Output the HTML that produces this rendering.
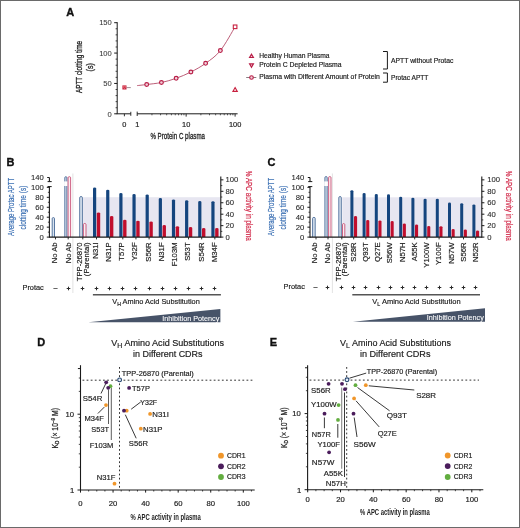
<!DOCTYPE html>
<html><head><meta charset="utf-8"><style>
html,body{margin:0;padding:0;background:#fff;}
svg{display:block;will-change:transform;}
text{font-family:"Liberation Sans", sans-serif;}
</style></head><body>
<svg width="520" height="528" viewBox="0 0 520 528">
<rect x="0" y="0" width="520" height="528" fill="#fff"/>
<text x="66.20" y="15.90" font-size="11" text-anchor="start" fill="#111" stroke="#111" stroke-width="0.35" font-weight="bold" >A</text>
<line x1="117.20" y1="22.20" x2="117.20" y2="113.80" stroke="#1a1a1a" stroke-width="1" />
<line x1="114.20" y1="113.80" x2="117.20" y2="113.80" stroke="#1a1a1a" stroke-width="1" />
<text x="111.80" y="116.50" font-size="7.6" text-anchor="end" fill="#333" stroke="#333" stroke-width="0.05" >0</text>
<line x1="115.60" y1="107.73" x2="117.20" y2="107.73" stroke="#1a1a1a" stroke-width="0.8" />
<line x1="115.60" y1="101.65" x2="117.20" y2="101.65" stroke="#1a1a1a" stroke-width="0.8" />
<line x1="115.60" y1="95.58" x2="117.20" y2="95.58" stroke="#1a1a1a" stroke-width="0.8" />
<line x1="115.60" y1="89.51" x2="117.20" y2="89.51" stroke="#1a1a1a" stroke-width="0.8" />
<line x1="114.20" y1="83.44" x2="117.20" y2="83.44" stroke="#1a1a1a" stroke-width="1" />
<text x="111.80" y="86.14" font-size="7.6" text-anchor="end" fill="#333" stroke="#333" stroke-width="0.05" >50</text>
<line x1="115.60" y1="77.36" x2="117.20" y2="77.36" stroke="#1a1a1a" stroke-width="0.8" />
<line x1="115.60" y1="71.29" x2="117.20" y2="71.29" stroke="#1a1a1a" stroke-width="0.8" />
<line x1="115.60" y1="65.22" x2="117.20" y2="65.22" stroke="#1a1a1a" stroke-width="0.8" />
<line x1="115.60" y1="59.14" x2="117.20" y2="59.14" stroke="#1a1a1a" stroke-width="0.8" />
<line x1="114.20" y1="53.07" x2="117.20" y2="53.07" stroke="#1a1a1a" stroke-width="1" />
<text x="111.80" y="55.77" font-size="7.6" text-anchor="end" fill="#333" stroke="#333" stroke-width="0.05" >100</text>
<line x1="115.60" y1="47.00" x2="117.20" y2="47.00" stroke="#1a1a1a" stroke-width="0.8" />
<line x1="115.60" y1="40.92" x2="117.20" y2="40.92" stroke="#1a1a1a" stroke-width="0.8" />
<line x1="115.60" y1="34.85" x2="117.20" y2="34.85" stroke="#1a1a1a" stroke-width="0.8" />
<line x1="115.60" y1="28.78" x2="117.20" y2="28.78" stroke="#1a1a1a" stroke-width="0.8" />
<line x1="114.20" y1="22.70" x2="117.20" y2="22.70" stroke="#1a1a1a" stroke-width="1" />
<text x="111.80" y="25.40" font-size="7.6" text-anchor="end" fill="#333" stroke="#333" stroke-width="0.05" >150</text>
<text x="82.30" y="67.00" font-size="8.8" text-anchor="middle" fill="#222" stroke="#222" stroke-width="0.3" textLength="52.20" lengthAdjust="spacingAndGlyphs" transform="rotate(-90 82.30 67.00)" >APTT clotting time</text>
<text x="93.30" y="67.30" font-size="8.8" text-anchor="middle" fill="#222" stroke="#222" stroke-width="0.3" textLength="8.20" lengthAdjust="spacingAndGlyphs" transform="rotate(-90 93.30 67.30)" >(s)</text>
<line x1="116.70" y1="113.80" x2="130.80" y2="113.80" stroke="#1a1a1a" stroke-width="1" />
<line x1="130.80" y1="111.80" x2="130.80" y2="115.80" stroke="#1a1a1a" stroke-width="0.9" />
<line x1="124.40" y1="113.80" x2="124.40" y2="116.30" stroke="#1a1a1a" stroke-width="0.9" />
<text x="124.40" y="126.80" font-size="7.4" text-anchor="middle" fill="#222" stroke="#222" stroke-width="0.18" >0</text>
<line x1="137.20" y1="113.80" x2="237.60" y2="113.80" stroke="#1a1a1a" stroke-width="1" />
<line x1="137.20" y1="111.60" x2="137.20" y2="116.00" stroke="#1a1a1a" stroke-width="0.9" />
<line x1="151.94" y1="113.80" x2="151.94" y2="115.30" stroke="#1a1a1a" stroke-width="0.7" />
<line x1="160.56" y1="113.80" x2="160.56" y2="115.30" stroke="#1a1a1a" stroke-width="0.7" />
<line x1="166.67" y1="113.80" x2="166.67" y2="115.30" stroke="#1a1a1a" stroke-width="0.7" />
<line x1="171.41" y1="113.80" x2="171.41" y2="115.30" stroke="#1a1a1a" stroke-width="0.7" />
<line x1="175.29" y1="113.80" x2="175.29" y2="115.30" stroke="#1a1a1a" stroke-width="0.7" />
<line x1="178.57" y1="113.80" x2="178.57" y2="115.30" stroke="#1a1a1a" stroke-width="0.7" />
<line x1="181.41" y1="113.80" x2="181.41" y2="115.30" stroke="#1a1a1a" stroke-width="0.7" />
<line x1="183.91" y1="113.80" x2="183.91" y2="115.30" stroke="#1a1a1a" stroke-width="0.7" />
<line x1="200.89" y1="113.80" x2="200.89" y2="115.30" stroke="#1a1a1a" stroke-width="0.7" />
<line x1="209.51" y1="113.80" x2="209.51" y2="115.30" stroke="#1a1a1a" stroke-width="0.7" />
<line x1="215.62" y1="113.80" x2="215.62" y2="115.30" stroke="#1a1a1a" stroke-width="0.7" />
<line x1="220.36" y1="113.80" x2="220.36" y2="115.30" stroke="#1a1a1a" stroke-width="0.7" />
<line x1="224.24" y1="113.80" x2="224.24" y2="115.30" stroke="#1a1a1a" stroke-width="0.7" />
<line x1="227.52" y1="113.80" x2="227.52" y2="115.30" stroke="#1a1a1a" stroke-width="0.7" />
<line x1="230.36" y1="113.80" x2="230.36" y2="115.30" stroke="#1a1a1a" stroke-width="0.7" />
<line x1="232.86" y1="113.80" x2="232.86" y2="115.30" stroke="#1a1a1a" stroke-width="0.7" />
<line x1="186.15" y1="113.80" x2="186.15" y2="116.60" stroke="#1a1a1a" stroke-width="0.9" />
<line x1="235.10" y1="113.80" x2="235.10" y2="116.60" stroke="#1a1a1a" stroke-width="0.9" />
<text x="137.20" y="126.80" font-size="7.4" text-anchor="middle" fill="#222" stroke="#222" stroke-width="0.18" >1</text>
<text x="186.15" y="126.80" font-size="7.4" text-anchor="middle" fill="#222" stroke="#222" stroke-width="0.18" >10</text>
<text x="235.10" y="126.80" font-size="7.4" text-anchor="middle" fill="#222" stroke="#222" stroke-width="0.18" >100</text>
<text x="150.40" y="139.30" font-size="8.8" text-anchor="start" fill="#222" stroke="#222" stroke-width="0.3" textLength="54.60" lengthAdjust="spacingAndGlyphs" >% Protein C plasma</text>
<path d="M137.20,85.60 C138.78,85.42 142.65,85.02 146.69,84.50 C150.72,83.98 156.51,83.53 161.42,82.50 C166.33,81.47 171.25,80.05 176.16,78.30 C181.07,76.55 185.98,74.50 190.89,72.00 C195.81,69.50 200.72,66.87 205.63,63.30 C210.54,59.73 215.45,56.68 220.36,50.60 C225.28,44.52 232.64,30.77 235.10,26.80" fill="none" stroke="#b0405e" stroke-width="0.85"/>
<circle cx="146.69" cy="84.50" r="1.9" fill="#f2d0da" stroke="#b81d46" stroke-width="1.15"/>
<circle cx="161.42" cy="82.50" r="1.9" fill="#f2d0da" stroke="#b81d46" stroke-width="1.15"/>
<circle cx="176.16" cy="78.30" r="1.9" fill="#f2d0da" stroke="#b81d46" stroke-width="1.15"/>
<circle cx="190.89" cy="72.00" r="1.9" fill="#f2d0da" stroke="#b81d46" stroke-width="1.15"/>
<circle cx="205.63" cy="63.30" r="1.9" fill="#f2d0da" stroke="#b81d46" stroke-width="1.15"/>
<circle cx="220.36" cy="50.60" r="1.9" fill="#f2d0da" stroke="#b81d46" stroke-width="1.15"/>
<rect x="233.30" y="25.00" width="3.6" height="3.6" fill="#fff" stroke="#c8203f" stroke-width="1.1"/>
<path d="M235.10,87.50 L237.30,91.40 L232.90,91.40Z" fill="#fff" stroke="#c8203f" stroke-width="1.1"/>
<rect x="122.4" y="85.4" width="4.1" height="4.1" fill="#c8203f"/>
<path d="M122.9,86.3 L126,86.3 L124.45,88.8Z" fill="none" stroke="#e88" stroke-width="0.6"/>
<line x1="126.50" y1="87.60" x2="130.80" y2="87.60" stroke="#8a7078" stroke-width="0.8" />
<path d="M251.5,54.2 L253.4,57.5 L249.6,57.5Z" fill="#f2d0da" stroke="#b81d46" stroke-width="1.2"/>
<path d="M251.5,67.2 L253.4,63.9 L249.6,63.9Z" fill="#f2d0da" stroke="#b81d46" stroke-width="1.2"/>
<line x1="246.20" y1="77.50" x2="256.30" y2="77.50" stroke="#6a5a60" stroke-width="0.8" />
<circle cx="251.5" cy="77.5" r="1.8" fill="#f2d0da" stroke="#b81d46" stroke-width="1.15"/>
<text x="259.20" y="57.70" font-size="6.8" text-anchor="start" fill="#222" stroke="#222" stroke-width="0.18" textLength="70.40" lengthAdjust="spacingAndGlyphs" >Healthy Human Plasma</text>
<text x="259.20" y="67.20" font-size="6.8" text-anchor="start" fill="#222" stroke="#222" stroke-width="0.18" textLength="82.40" lengthAdjust="spacingAndGlyphs" >Protein C Depleted Plasma</text>
<text x="259.20" y="79.40" font-size="6.8" text-anchor="start" fill="#222" stroke="#222" stroke-width="0.18" textLength="120.70" lengthAdjust="spacingAndGlyphs" >Plasma with Different Amount of Protein</text>
<path d="M383,51.5 H387.4 V69 H383" fill="none" stroke="#1a1a1a" stroke-width="1"/>
<path d="M383,73 H387.4 V82.2 H383" fill="none" stroke="#1a1a1a" stroke-width="1"/>
<text x="391.00" y="62.60" font-size="6.8" text-anchor="start" fill="#222" stroke="#222" stroke-width="0.18" textLength="62.40" lengthAdjust="spacingAndGlyphs" >APTT without Protac</text>
<text x="391.00" y="79.60" font-size="6.8" text-anchor="start" fill="#222" stroke="#222" stroke-width="0.18" textLength="37.40" lengthAdjust="spacingAndGlyphs" >Protac APTT</text>
<text x="6.40" y="165.60" font-size="11" text-anchor="start" fill="#111" stroke="#111" stroke-width="0.35" font-weight="bold" >B</text>
<rect x="83.10" y="197.20" width="137.70" height="39.90" fill="#e7e6f1"/>
<line x1="72.90" y1="173.50" x2="72.90" y2="293.00" stroke="#cfcfcf" stroke-width="0.6" />
<path d="M52.20,237.10 V218.60 Q52.20,217.60 53.35,217.60 Q54.50,217.60 54.50,218.60 V237.10" fill="#d9e3ef" stroke="#34598c" stroke-width="0.8"/>
<path d="M64.80,237.10 V177.70 Q64.80,176.70 65.85,176.70 Q66.90,176.70 66.90,177.70 V237.10" fill="#d9e3ef" stroke="#34598c" stroke-width="0.8"/>
<rect x="64.10" y="181.4" width="3.50" height="4.6" fill="#fff"/>
<path d="M68.10,237.10 V177.70 Q68.10,176.70 69.35,176.70 Q70.60,176.70 70.60,177.70 V237.10" fill="#fbeef2" stroke="#c23c66" stroke-width="0.8"/>
<path d="M79.70,237.10 V197.60 Q79.70,196.60 81.05,196.60 Q82.40,196.60 82.40,197.60 V237.10" fill="#d9e3ef" stroke="#34598c" stroke-width="0.8"/>
<path d="M83.40,237.10 V224.50 Q83.40,223.50 84.70,223.50 Q86.00,223.50 86.00,224.50 V237.10" fill="#fbeef2" stroke="#c23c66" stroke-width="0.8"/>
<path d="M93.00,237.10 V188.40 Q93.00,187.40 94.60,187.40 Q96.20,187.40 96.20,188.40 V237.10Z" fill="#15457e"/>
<path d="M96.80,237.10 V213.60 Q96.80,212.60 98.50,212.60 Q100.20,212.60 100.20,213.60 V237.10Z" fill="#c00e2d"/>
<path d="M106.15,237.10 V190.80 Q106.15,189.80 107.75,189.80 Q109.35,189.80 109.35,190.80 V237.10Z" fill="#15457e"/>
<path d="M109.95,237.10 V216.90 Q109.95,215.90 111.65,215.90 Q113.35,215.90 113.35,216.90 V237.10Z" fill="#c00e2d"/>
<path d="M119.30,237.10 V194.10 Q119.30,193.10 120.90,193.10 Q122.50,193.10 122.50,194.10 V237.10Z" fill="#15457e"/>
<path d="M123.10,237.10 V220.70 Q123.10,219.70 124.80,219.70 Q126.50,219.70 126.50,220.70 V237.10Z" fill="#c00e2d"/>
<path d="M132.45,237.10 V195.10 Q132.45,194.10 134.05,194.10 Q135.65,194.10 135.65,195.10 V237.10Z" fill="#15457e"/>
<path d="M136.25,237.10 V221.80 Q136.25,220.80 137.95,220.80 Q139.65,220.80 139.65,221.80 V237.10Z" fill="#c00e2d"/>
<path d="M145.60,237.10 V195.50 Q145.60,194.50 147.20,194.50 Q148.80,194.50 148.80,195.50 V237.10Z" fill="#15457e"/>
<path d="M149.40,237.10 V222.50 Q149.40,221.50 151.10,221.50 Q152.80,221.50 152.80,222.50 V237.10Z" fill="#c00e2d"/>
<path d="M158.75,237.10 V199.00 Q158.75,198.00 160.35,198.00 Q161.95,198.00 161.95,199.00 V237.10Z" fill="#15457e"/>
<path d="M162.55,237.10 V226.00 Q162.55,225.00 164.25,225.00 Q165.95,225.00 165.95,226.00 V237.10Z" fill="#c00e2d"/>
<path d="M171.90,237.10 V200.40 Q171.90,199.40 173.50,199.40 Q175.10,199.40 175.10,200.40 V237.10Z" fill="#15457e"/>
<path d="M175.70,237.10 V227.30 Q175.70,226.30 177.40,226.30 Q179.10,226.30 179.10,227.30 V237.10Z" fill="#c00e2d"/>
<path d="M185.05,237.10 V201.20 Q185.05,200.20 186.65,200.20 Q188.25,200.20 188.25,201.20 V237.10Z" fill="#15457e"/>
<path d="M188.85,237.10 V228.10 Q188.85,227.10 190.55,227.10 Q192.25,227.10 192.25,228.10 V237.10Z" fill="#c00e2d"/>
<path d="M198.20,237.10 V202.00 Q198.20,201.00 199.80,201.00 Q201.40,201.00 201.40,202.00 V237.10Z" fill="#15457e"/>
<path d="M202.00,237.10 V229.00 Q202.00,228.00 203.70,228.00 Q205.40,228.00 205.40,229.00 V237.10Z" fill="#c00e2d"/>
<path d="M211.35,237.10 V202.30 Q211.35,201.30 212.95,201.30 Q214.55,201.30 214.55,202.30 V237.10Z" fill="#15457e"/>
<path d="M215.15,237.10 V229.00 Q215.15,228.00 216.85,228.00 Q218.55,228.00 218.55,229.00 V237.10Z" fill="#c00e2d"/>
<line x1="49.40" y1="186.60" x2="49.40" y2="237.65" stroke="#1a1a1a" stroke-width="1.1" />
<line x1="47.60" y1="186.60" x2="51.70" y2="186.60" stroke="#1a1a1a" stroke-width="1" />
<line x1="49.40" y1="177.40" x2="49.40" y2="181.60" stroke="#1a1a1a" stroke-width="1.1" />
<line x1="47.60" y1="181.60" x2="51.70" y2="181.60" stroke="#1a1a1a" stroke-width="1" />
<line x1="47.20" y1="177.50" x2="49.40" y2="177.50" stroke="#1a1a1a" stroke-width="1" />
<line x1="46.80" y1="237.10" x2="49.40" y2="237.10" stroke="#1a1a1a" stroke-width="1" />
<line x1="47.90" y1="232.12" x2="49.40" y2="232.12" stroke="#1a1a1a" stroke-width="0.8" />
<line x1="46.80" y1="227.15" x2="49.40" y2="227.15" stroke="#1a1a1a" stroke-width="1" />
<line x1="47.90" y1="222.17" x2="49.40" y2="222.17" stroke="#1a1a1a" stroke-width="0.8" />
<line x1="46.80" y1="217.20" x2="49.40" y2="217.20" stroke="#1a1a1a" stroke-width="1" />
<line x1="47.90" y1="212.22" x2="49.40" y2="212.22" stroke="#1a1a1a" stroke-width="0.8" />
<line x1="46.80" y1="207.25" x2="49.40" y2="207.25" stroke="#1a1a1a" stroke-width="1" />
<line x1="47.90" y1="202.27" x2="49.40" y2="202.27" stroke="#1a1a1a" stroke-width="0.8" />
<line x1="46.80" y1="197.30" x2="49.40" y2="197.30" stroke="#1a1a1a" stroke-width="1" />
<line x1="47.90" y1="192.32" x2="49.40" y2="192.32" stroke="#1a1a1a" stroke-width="0.8" />
<line x1="46.80" y1="187.35" x2="49.40" y2="187.35" stroke="#1a1a1a" stroke-width="1" />
<text x="43.80" y="239.55" font-size="7.7" text-anchor="end" fill="#2a2a2a" stroke="#2a2a2a" stroke-width="0.1" >0</text>
<text x="43.80" y="229.60" font-size="7.7" text-anchor="end" fill="#2a2a2a" stroke="#2a2a2a" stroke-width="0.1" >20</text>
<text x="43.80" y="219.65" font-size="7.7" text-anchor="end" fill="#2a2a2a" stroke="#2a2a2a" stroke-width="0.1" >40</text>
<text x="43.80" y="209.70" font-size="7.7" text-anchor="end" fill="#2a2a2a" stroke="#2a2a2a" stroke-width="0.1" >60</text>
<text x="43.80" y="199.75" font-size="7.7" text-anchor="end" fill="#2a2a2a" stroke="#2a2a2a" stroke-width="0.1" >80</text>
<text x="43.80" y="189.80" font-size="7.7" text-anchor="end" fill="#2a2a2a" stroke="#2a2a2a" stroke-width="0.1" >100</text>
<text x="43.80" y="180.20" font-size="7.7" text-anchor="end" fill="#2a2a2a" stroke="#2a2a2a" stroke-width="0.1" >140</text>
<text x="14.00" y="206.90" font-size="9.0" text-anchor="middle" fill="#3a6fb3" stroke="#3a6fb3" stroke-width="0.2" textLength="58.20" lengthAdjust="spacingAndGlyphs" transform="rotate(-90 14.00 206.90)" >Average Protac APTT</text>
<text x="25.80" y="207.60" font-size="9.0" text-anchor="middle" fill="#3a6fb3" stroke="#3a6fb3" stroke-width="0.2" textLength="43.80" lengthAdjust="spacingAndGlyphs" transform="rotate(-90 25.80 207.60)" >clotting time (s)</text>
<line x1="220.80" y1="176.60" x2="220.80" y2="237.65" stroke="#1a1a1a" stroke-width="1.1" />
<line x1="220.80" y1="237.10" x2="223.40" y2="237.10" stroke="#1a1a1a" stroke-width="1" />
<line x1="220.80" y1="231.38" x2="222.30" y2="231.38" stroke="#1a1a1a" stroke-width="0.8" />
<line x1="220.80" y1="225.65" x2="223.40" y2="225.65" stroke="#1a1a1a" stroke-width="1" />
<line x1="220.80" y1="219.92" x2="222.30" y2="219.92" stroke="#1a1a1a" stroke-width="0.8" />
<line x1="220.80" y1="214.20" x2="223.40" y2="214.20" stroke="#1a1a1a" stroke-width="1" />
<line x1="220.80" y1="208.47" x2="222.30" y2="208.47" stroke="#1a1a1a" stroke-width="0.8" />
<line x1="220.80" y1="202.75" x2="223.40" y2="202.75" stroke="#1a1a1a" stroke-width="1" />
<line x1="220.80" y1="197.02" x2="222.30" y2="197.02" stroke="#1a1a1a" stroke-width="0.8" />
<line x1="220.80" y1="191.30" x2="223.40" y2="191.30" stroke="#1a1a1a" stroke-width="1" />
<line x1="220.80" y1="185.57" x2="222.30" y2="185.57" stroke="#1a1a1a" stroke-width="0.8" />
<line x1="220.80" y1="179.85" x2="223.40" y2="179.85" stroke="#1a1a1a" stroke-width="1" />
<text x="225.40" y="239.70" font-size="7.7" text-anchor="start" fill="#2a2a2a" stroke="#2a2a2a" stroke-width="0.1" >0</text>
<text x="225.40" y="228.25" font-size="7.7" text-anchor="start" fill="#2a2a2a" stroke="#2a2a2a" stroke-width="0.1" >20</text>
<text x="225.40" y="216.80" font-size="7.7" text-anchor="start" fill="#2a2a2a" stroke="#2a2a2a" stroke-width="0.1" >40</text>
<text x="225.40" y="205.35" font-size="7.7" text-anchor="start" fill="#2a2a2a" stroke="#2a2a2a" stroke-width="0.1" >60</text>
<text x="225.40" y="193.90" font-size="7.7" text-anchor="start" fill="#2a2a2a" stroke="#2a2a2a" stroke-width="0.1" >80</text>
<text x="225.40" y="182.45" font-size="7.7" text-anchor="start" fill="#2a2a2a" stroke="#2a2a2a" stroke-width="0.1" >100</text>
<text x="245.60" y="205.85" font-size="9.0" text-anchor="middle" fill="#d22a4a" stroke="#d22a4a" stroke-width="0.2" textLength="70.00" lengthAdjust="spacingAndGlyphs" transform="rotate(90 245.60 205.85)" >% APC activity in plasma</text>
<line x1="49.40" y1="237.10" x2="220.80" y2="237.10" stroke="#1a1a1a" stroke-width="1.2" />
<line x1="55.50" y1="237.10" x2="55.50" y2="239.40" stroke="#1a1a1a" stroke-width="0.9" />
<line x1="68.20" y1="237.10" x2="68.20" y2="239.40" stroke="#1a1a1a" stroke-width="0.9" />
<line x1="82.80" y1="237.10" x2="82.80" y2="239.40" stroke="#1a1a1a" stroke-width="0.9" />
<line x1="96.50" y1="237.10" x2="96.50" y2="239.40" stroke="#1a1a1a" stroke-width="0.9" />
<line x1="109.65" y1="237.10" x2="109.65" y2="239.40" stroke="#1a1a1a" stroke-width="0.9" />
<line x1="122.80" y1="237.10" x2="122.80" y2="239.40" stroke="#1a1a1a" stroke-width="0.9" />
<line x1="135.95" y1="237.10" x2="135.95" y2="239.40" stroke="#1a1a1a" stroke-width="0.9" />
<line x1="149.10" y1="237.10" x2="149.10" y2="239.40" stroke="#1a1a1a" stroke-width="0.9" />
<line x1="162.25" y1="237.10" x2="162.25" y2="239.40" stroke="#1a1a1a" stroke-width="0.9" />
<line x1="175.40" y1="237.10" x2="175.40" y2="239.40" stroke="#1a1a1a" stroke-width="0.9" />
<line x1="188.55" y1="237.10" x2="188.55" y2="239.40" stroke="#1a1a1a" stroke-width="0.9" />
<line x1="201.70" y1="237.10" x2="201.70" y2="239.40" stroke="#1a1a1a" stroke-width="0.9" />
<line x1="214.85" y1="237.10" x2="214.85" y2="239.40" stroke="#1a1a1a" stroke-width="0.9" />
<text x="57.30" y="242.40" font-size="7.7" text-anchor="end" fill="#222" stroke="#222" stroke-width="0.18" transform="rotate(-90 57.30 242.40)" >No Ab</text>
<text x="70.90" y="242.40" font-size="7.7" text-anchor="end" fill="#222" stroke="#222" stroke-width="0.18" transform="rotate(-90 70.90 242.40)" >No Ab</text>
<text x="82.10" y="242.40" font-size="7.7" text-anchor="end" fill="#222" stroke="#222" stroke-width="0.18" transform="rotate(-90 82.10 242.40)" >TPP-26870</text>
<text x="88.70" y="242.40" font-size="7.7" text-anchor="end" fill="#222" stroke="#222" stroke-width="0.18" transform="rotate(-90 88.70 242.40)" >(Parental)</text>
<text x="98.50" y="242.40" font-size="7.7" text-anchor="end" fill="#222" stroke="#222" stroke-width="0.18" transform="rotate(-90 98.50 242.40)" >N31I</text>
<text x="111.50" y="242.40" font-size="7.7" text-anchor="end" fill="#222" stroke="#222" stroke-width="0.18" transform="rotate(-90 111.50 242.40)" >N31P</text>
<text x="124.20" y="242.40" font-size="7.7" text-anchor="end" fill="#222" stroke="#222" stroke-width="0.18" transform="rotate(-90 124.20 242.40)" >T57P</text>
<text x="137.40" y="242.40" font-size="7.7" text-anchor="end" fill="#222" stroke="#222" stroke-width="0.18" transform="rotate(-90 137.40 242.40)" >Y32F</text>
<text x="151.30" y="242.40" font-size="7.7" text-anchor="end" fill="#222" stroke="#222" stroke-width="0.18" transform="rotate(-90 151.30 242.40)" >S56R</text>
<text x="163.80" y="242.40" font-size="7.7" text-anchor="end" fill="#222" stroke="#222" stroke-width="0.18" transform="rotate(-90 163.80 242.40)" >N31F</text>
<text x="177.20" y="242.40" font-size="7.7" text-anchor="end" fill="#222" stroke="#222" stroke-width="0.18" transform="rotate(-90 177.20 242.40)" >F103M</text>
<text x="189.80" y="242.40" font-size="7.7" text-anchor="end" fill="#222" stroke="#222" stroke-width="0.18" transform="rotate(-90 189.80 242.40)" >S53T</text>
<text x="203.70" y="242.40" font-size="7.7" text-anchor="end" fill="#222" stroke="#222" stroke-width="0.18" transform="rotate(-90 203.70 242.40)" >S54R</text>
<text x="217.10" y="242.40" font-size="7.7" text-anchor="end" fill="#222" stroke="#222" stroke-width="0.18" transform="rotate(-90 217.10 242.40)" >M34F</text>
<text x="22.50" y="290.00" font-size="7.7" text-anchor="start" fill="#222" stroke="#222" stroke-width="0.18" textLength="21.30" lengthAdjust="spacingAndGlyphs" >Protac</text>
<line x1="53.40" y1="288.50" x2="57.60" y2="288.50" stroke="#555" stroke-width="0.9" />
<line x1="66.70" y1="288.50" x2="70.30" y2="288.50" stroke="#2a2a2a" stroke-width="1.0" />
<line x1="68.50" y1="286.70" x2="68.50" y2="290.30" stroke="#2a2a2a" stroke-width="1.0" />
<line x1="80.70" y1="288.50" x2="84.30" y2="288.50" stroke="#2a2a2a" stroke-width="1.0" />
<line x1="82.50" y1="286.70" x2="82.50" y2="290.30" stroke="#2a2a2a" stroke-width="1.0" />
<line x1="94.70" y1="288.50" x2="98.30" y2="288.50" stroke="#2a2a2a" stroke-width="1.0" />
<line x1="96.50" y1="286.70" x2="96.50" y2="290.30" stroke="#2a2a2a" stroke-width="1.0" />
<line x1="107.70" y1="288.50" x2="111.30" y2="288.50" stroke="#2a2a2a" stroke-width="1.0" />
<line x1="109.50" y1="286.70" x2="109.50" y2="290.30" stroke="#2a2a2a" stroke-width="1.0" />
<line x1="120.70" y1="288.50" x2="124.30" y2="288.50" stroke="#2a2a2a" stroke-width="1.0" />
<line x1="122.50" y1="286.70" x2="122.50" y2="290.30" stroke="#2a2a2a" stroke-width="1.0" />
<line x1="133.70" y1="288.50" x2="137.30" y2="288.50" stroke="#2a2a2a" stroke-width="1.0" />
<line x1="135.50" y1="286.70" x2="135.50" y2="290.30" stroke="#2a2a2a" stroke-width="1.0" />
<line x1="147.70" y1="288.50" x2="151.30" y2="288.50" stroke="#2a2a2a" stroke-width="1.0" />
<line x1="149.50" y1="286.70" x2="149.50" y2="290.30" stroke="#2a2a2a" stroke-width="1.0" />
<line x1="160.70" y1="288.50" x2="164.30" y2="288.50" stroke="#2a2a2a" stroke-width="1.0" />
<line x1="162.50" y1="286.70" x2="162.50" y2="290.30" stroke="#2a2a2a" stroke-width="1.0" />
<line x1="173.70" y1="288.50" x2="177.30" y2="288.50" stroke="#2a2a2a" stroke-width="1.0" />
<line x1="175.50" y1="286.70" x2="175.50" y2="290.30" stroke="#2a2a2a" stroke-width="1.0" />
<line x1="186.70" y1="288.50" x2="190.30" y2="288.50" stroke="#2a2a2a" stroke-width="1.0" />
<line x1="188.50" y1="286.70" x2="188.50" y2="290.30" stroke="#2a2a2a" stroke-width="1.0" />
<line x1="199.70" y1="288.50" x2="203.30" y2="288.50" stroke="#2a2a2a" stroke-width="1.0" />
<line x1="201.50" y1="286.70" x2="201.50" y2="290.30" stroke="#2a2a2a" stroke-width="1.0" />
<line x1="212.70" y1="288.50" x2="216.30" y2="288.50" stroke="#2a2a2a" stroke-width="1.0" />
<line x1="214.50" y1="286.70" x2="214.50" y2="290.30" stroke="#2a2a2a" stroke-width="1.0" />
<line x1="92.90" y1="294.80" x2="220.90" y2="294.80" stroke="#555" stroke-width="1.5" />
<text x="112.30" y="304.2" font-size="7.9" fill="#222" stroke="#222" stroke-width="0.18" textLength="87.50" lengthAdjust="spacingAndGlyphs">V<tspan font-size="5.6" dy="1.8">H</tspan><tspan dy="-1.8"> Amino Acid Substitution</tspan></text>
<path d="M88.30,322.20 L220.40,309.10 L220.40,322.20Z" fill="#475368"/>
<text x="162.30" y="320.50" font-size="7.2" text-anchor="start" fill="#fff" stroke="#fff" stroke-width="0.08" textLength="57.00" lengthAdjust="spacingAndGlyphs" >Inhibition Potency</text>
<text x="267.60" y="165.60" font-size="11" text-anchor="start" fill="#111" stroke="#111" stroke-width="0.35" font-weight="bold" >C</text>
<rect x="342.30" y="197.30" width="139.50" height="39.80" fill="#e7e6f1"/>
<line x1="332.40" y1="173.50" x2="332.40" y2="293.00" stroke="#cfcfcf" stroke-width="0.6" />
<path d="M312.60,237.10 V218.40 Q312.60,217.40 313.90,217.40 Q315.20,217.40 315.20,218.40 V237.10" fill="#d9e3ef" stroke="#34598c" stroke-width="0.8"/>
<path d="M324.90,237.10 V177.60 Q324.90,176.60 326.05,176.60 Q327.20,176.60 327.20,177.60 V237.10" fill="#d9e3ef" stroke="#34598c" stroke-width="0.8"/>
<rect x="324.20" y="181.4" width="3.70" height="4.6" fill="#fff"/>
<path d="M328.60,237.10 V177.60 Q328.60,176.60 329.80,176.60 Q331.00,176.60 331.00,177.60 V237.10" fill="#fbeef2" stroke="#c23c66" stroke-width="0.8"/>
<path d="M338.80,237.10 V197.60 Q338.80,196.60 340.05,196.60 Q341.30,196.60 341.30,197.60 V237.10" fill="#d9e3ef" stroke="#34598c" stroke-width="0.8"/>
<path d="M342.50,237.10 V224.60 Q342.50,223.60 343.65,223.60 Q344.80,223.60 344.80,224.60 V237.10" fill="#fbeef2" stroke="#c23c66" stroke-width="0.8"/>
<path d="M350.40,237.10 V191.20 Q350.40,190.20 351.90,190.20 Q353.40,190.20 353.40,191.20 V237.10Z" fill="#15457e"/>
<path d="M354.00,237.10 V217.10 Q354.00,216.10 355.55,216.10 Q357.10,216.10 357.10,217.10 V237.10Z" fill="#c00e2d"/>
<path d="M362.60,237.10 V194.10 Q362.60,193.10 364.10,193.10 Q365.60,193.10 365.60,194.10 V237.10Z" fill="#15457e"/>
<path d="M366.20,237.10 V220.90 Q366.20,219.90 367.75,219.90 Q369.30,219.90 369.30,220.90 V237.10Z" fill="#c00e2d"/>
<path d="M374.80,237.10 V194.90 Q374.80,193.90 376.30,193.90 Q377.80,193.90 377.80,194.90 V237.10Z" fill="#15457e"/>
<path d="M378.40,237.10 V221.50 Q378.40,220.50 379.95,220.50 Q381.50,220.50 381.50,221.50 V237.10Z" fill="#c00e2d"/>
<path d="M387.00,237.10 V195.20 Q387.00,194.20 388.50,194.20 Q390.00,194.20 390.00,195.20 V237.10Z" fill="#15457e"/>
<path d="M390.60,237.10 V222.00 Q390.60,221.00 392.15,221.00 Q393.70,221.00 393.70,222.00 V237.10Z" fill="#c00e2d"/>
<path d="M399.20,237.10 V197.80 Q399.20,196.80 400.70,196.80 Q402.20,196.80 402.20,197.80 V237.10Z" fill="#15457e"/>
<path d="M402.80,237.10 V224.60 Q402.80,223.60 404.35,223.60 Q405.90,223.60 405.90,224.60 V237.10Z" fill="#c00e2d"/>
<path d="M411.40,237.10 V198.70 Q411.40,197.70 412.90,197.70 Q414.40,197.70 414.40,198.70 V237.10Z" fill="#15457e"/>
<path d="M415.00,237.10 V225.50 Q415.00,224.50 416.55,224.50 Q418.10,224.50 418.10,225.50 V237.10Z" fill="#c00e2d"/>
<path d="M423.60,237.10 V199.80 Q423.60,198.80 425.10,198.80 Q426.60,198.80 426.60,199.80 V237.10Z" fill="#15457e"/>
<path d="M427.20,237.10 V227.00 Q427.20,226.00 428.75,226.00 Q430.30,226.00 430.30,227.00 V237.10Z" fill="#c00e2d"/>
<path d="M435.80,237.10 V199.80 Q435.80,198.80 437.30,198.80 Q438.80,198.80 438.80,199.80 V237.10Z" fill="#15457e"/>
<path d="M439.40,237.10 V227.20 Q439.40,226.20 440.95,226.20 Q442.50,226.20 442.50,227.20 V237.10Z" fill="#c00e2d"/>
<path d="M448.00,237.10 V203.60 Q448.00,202.60 449.50,202.60 Q451.00,202.60 451.00,203.60 V237.10Z" fill="#15457e"/>
<path d="M451.60,237.10 V230.10 Q451.60,229.10 453.15,229.10 Q454.70,229.10 454.70,230.10 V237.10Z" fill="#c00e2d"/>
<path d="M460.20,237.10 V204.20 Q460.20,203.20 461.70,203.20 Q463.20,203.20 463.20,204.20 V237.10Z" fill="#15457e"/>
<path d="M463.80,237.10 V230.40 Q463.80,229.40 465.35,229.40 Q466.90,229.40 466.90,230.40 V237.10Z" fill="#c00e2d"/>
<path d="M472.40,237.10 V205.60 Q472.40,204.60 473.90,204.60 Q475.40,204.60 475.40,205.60 V237.10Z" fill="#15457e"/>
<path d="M476.00,237.10 V231.60 Q476.00,230.60 477.55,230.60 Q479.10,230.60 479.10,231.60 V237.10Z" fill="#c00e2d"/>
<line x1="310.00" y1="186.60" x2="310.00" y2="237.65" stroke="#1a1a1a" stroke-width="1.1" />
<line x1="308.20" y1="186.60" x2="312.30" y2="186.60" stroke="#1a1a1a" stroke-width="1" />
<line x1="310.00" y1="177.40" x2="310.00" y2="181.60" stroke="#1a1a1a" stroke-width="1.1" />
<line x1="308.20" y1="181.60" x2="312.30" y2="181.60" stroke="#1a1a1a" stroke-width="1" />
<line x1="307.80" y1="177.50" x2="310.00" y2="177.50" stroke="#1a1a1a" stroke-width="1" />
<line x1="307.40" y1="237.10" x2="310.00" y2="237.10" stroke="#1a1a1a" stroke-width="1" />
<line x1="308.50" y1="232.12" x2="310.00" y2="232.12" stroke="#1a1a1a" stroke-width="0.8" />
<line x1="307.40" y1="227.15" x2="310.00" y2="227.15" stroke="#1a1a1a" stroke-width="1" />
<line x1="308.50" y1="222.17" x2="310.00" y2="222.17" stroke="#1a1a1a" stroke-width="0.8" />
<line x1="307.40" y1="217.20" x2="310.00" y2="217.20" stroke="#1a1a1a" stroke-width="1" />
<line x1="308.50" y1="212.22" x2="310.00" y2="212.22" stroke="#1a1a1a" stroke-width="0.8" />
<line x1="307.40" y1="207.25" x2="310.00" y2="207.25" stroke="#1a1a1a" stroke-width="1" />
<line x1="308.50" y1="202.27" x2="310.00" y2="202.27" stroke="#1a1a1a" stroke-width="0.8" />
<line x1="307.40" y1="197.30" x2="310.00" y2="197.30" stroke="#1a1a1a" stroke-width="1" />
<line x1="308.50" y1="192.32" x2="310.00" y2="192.32" stroke="#1a1a1a" stroke-width="0.8" />
<line x1="307.40" y1="187.35" x2="310.00" y2="187.35" stroke="#1a1a1a" stroke-width="1" />
<text x="304.40" y="239.55" font-size="7.7" text-anchor="end" fill="#2a2a2a" stroke="#2a2a2a" stroke-width="0.1" >0</text>
<text x="304.40" y="229.60" font-size="7.7" text-anchor="end" fill="#2a2a2a" stroke="#2a2a2a" stroke-width="0.1" >20</text>
<text x="304.40" y="219.65" font-size="7.7" text-anchor="end" fill="#2a2a2a" stroke="#2a2a2a" stroke-width="0.1" >40</text>
<text x="304.40" y="209.70" font-size="7.7" text-anchor="end" fill="#2a2a2a" stroke="#2a2a2a" stroke-width="0.1" >60</text>
<text x="304.40" y="199.75" font-size="7.7" text-anchor="end" fill="#2a2a2a" stroke="#2a2a2a" stroke-width="0.1" >80</text>
<text x="304.40" y="189.80" font-size="7.7" text-anchor="end" fill="#2a2a2a" stroke="#2a2a2a" stroke-width="0.1" >100</text>
<text x="304.40" y="180.20" font-size="7.7" text-anchor="end" fill="#2a2a2a" stroke="#2a2a2a" stroke-width="0.1" >140</text>
<text x="274.40" y="206.90" font-size="9.0" text-anchor="middle" fill="#3a6fb3" stroke="#3a6fb3" stroke-width="0.2" textLength="58.20" lengthAdjust="spacingAndGlyphs" transform="rotate(-90 274.40 206.90)" >Average Protac APTT</text>
<text x="286.30" y="207.60" font-size="9.0" text-anchor="middle" fill="#3a6fb3" stroke="#3a6fb3" stroke-width="0.2" textLength="43.80" lengthAdjust="spacingAndGlyphs" transform="rotate(-90 286.30 207.60)" >clotting time (s)</text>
<line x1="481.80" y1="176.60" x2="481.80" y2="237.65" stroke="#1a1a1a" stroke-width="1.1" />
<line x1="481.80" y1="237.10" x2="484.40" y2="237.10" stroke="#1a1a1a" stroke-width="1" />
<line x1="481.80" y1="231.38" x2="483.30" y2="231.38" stroke="#1a1a1a" stroke-width="0.8" />
<line x1="481.80" y1="225.65" x2="484.40" y2="225.65" stroke="#1a1a1a" stroke-width="1" />
<line x1="481.80" y1="219.92" x2="483.30" y2="219.92" stroke="#1a1a1a" stroke-width="0.8" />
<line x1="481.80" y1="214.20" x2="484.40" y2="214.20" stroke="#1a1a1a" stroke-width="1" />
<line x1="481.80" y1="208.47" x2="483.30" y2="208.47" stroke="#1a1a1a" stroke-width="0.8" />
<line x1="481.80" y1="202.75" x2="484.40" y2="202.75" stroke="#1a1a1a" stroke-width="1" />
<line x1="481.80" y1="197.02" x2="483.30" y2="197.02" stroke="#1a1a1a" stroke-width="0.8" />
<line x1="481.80" y1="191.30" x2="484.40" y2="191.30" stroke="#1a1a1a" stroke-width="1" />
<line x1="481.80" y1="185.57" x2="483.30" y2="185.57" stroke="#1a1a1a" stroke-width="0.8" />
<line x1="481.80" y1="179.85" x2="484.40" y2="179.85" stroke="#1a1a1a" stroke-width="1" />
<text x="487.20" y="239.70" font-size="7.7" text-anchor="start" fill="#2a2a2a" stroke="#2a2a2a" stroke-width="0.1" >0</text>
<text x="487.20" y="228.25" font-size="7.7" text-anchor="start" fill="#2a2a2a" stroke="#2a2a2a" stroke-width="0.1" >20</text>
<text x="487.20" y="216.80" font-size="7.7" text-anchor="start" fill="#2a2a2a" stroke="#2a2a2a" stroke-width="0.1" >40</text>
<text x="487.20" y="205.35" font-size="7.7" text-anchor="start" fill="#2a2a2a" stroke="#2a2a2a" stroke-width="0.1" >60</text>
<text x="487.20" y="193.90" font-size="7.7" text-anchor="start" fill="#2a2a2a" stroke="#2a2a2a" stroke-width="0.1" >80</text>
<text x="487.20" y="182.45" font-size="7.7" text-anchor="start" fill="#2a2a2a" stroke="#2a2a2a" stroke-width="0.1" >100</text>
<text x="505.80" y="205.85" font-size="9.0" text-anchor="middle" fill="#d22a4a" stroke="#d22a4a" stroke-width="0.2" textLength="70.00" lengthAdjust="spacingAndGlyphs" transform="rotate(90 505.80 205.85)" >% APC activity in plasma</text>
<line x1="310.00" y1="237.10" x2="481.80" y2="237.10" stroke="#1a1a1a" stroke-width="1.2" />
<line x1="316.00" y1="237.10" x2="316.00" y2="239.40" stroke="#1a1a1a" stroke-width="0.9" />
<line x1="328.00" y1="237.10" x2="328.00" y2="239.40" stroke="#1a1a1a" stroke-width="0.9" />
<line x1="341.80" y1="237.10" x2="341.80" y2="239.40" stroke="#1a1a1a" stroke-width="0.9" />
<line x1="353.70" y1="237.10" x2="353.70" y2="239.40" stroke="#1a1a1a" stroke-width="0.9" />
<line x1="365.90" y1="237.10" x2="365.90" y2="239.40" stroke="#1a1a1a" stroke-width="0.9" />
<line x1="378.10" y1="237.10" x2="378.10" y2="239.40" stroke="#1a1a1a" stroke-width="0.9" />
<line x1="390.30" y1="237.10" x2="390.30" y2="239.40" stroke="#1a1a1a" stroke-width="0.9" />
<line x1="402.50" y1="237.10" x2="402.50" y2="239.40" stroke="#1a1a1a" stroke-width="0.9" />
<line x1="414.70" y1="237.10" x2="414.70" y2="239.40" stroke="#1a1a1a" stroke-width="0.9" />
<line x1="426.90" y1="237.10" x2="426.90" y2="239.40" stroke="#1a1a1a" stroke-width="0.9" />
<line x1="439.10" y1="237.10" x2="439.10" y2="239.40" stroke="#1a1a1a" stroke-width="0.9" />
<line x1="451.30" y1="237.10" x2="451.30" y2="239.40" stroke="#1a1a1a" stroke-width="0.9" />
<line x1="463.50" y1="237.10" x2="463.50" y2="239.40" stroke="#1a1a1a" stroke-width="0.9" />
<line x1="475.70" y1="237.10" x2="475.70" y2="239.40" stroke="#1a1a1a" stroke-width="0.9" />
<text x="317.40" y="242.40" font-size="7.7" text-anchor="end" fill="#222" stroke="#222" stroke-width="0.18" transform="rotate(-90 317.40 242.40)" >No Ab</text>
<text x="330.20" y="242.40" font-size="7.7" text-anchor="end" fill="#222" stroke="#222" stroke-width="0.18" transform="rotate(-90 330.20 242.40)" >No Ab</text>
<text x="340.70" y="242.40" font-size="7.7" text-anchor="end" fill="#222" stroke="#222" stroke-width="0.18" transform="rotate(-90 340.70 242.40)" >TPP-26870</text>
<text x="346.60" y="242.40" font-size="7.7" text-anchor="end" fill="#222" stroke="#222" stroke-width="0.18" transform="rotate(-90 346.60 242.40)" >(Parental)</text>
<text x="355.80" y="242.40" font-size="7.7" text-anchor="end" fill="#222" stroke="#222" stroke-width="0.18" transform="rotate(-90 355.80 242.40)" >S28R</text>
<text x="368.30" y="242.40" font-size="7.7" text-anchor="end" fill="#222" stroke="#222" stroke-width="0.18" transform="rotate(-90 368.30 242.40)" >Q93T</text>
<text x="380.20" y="242.40" font-size="7.7" text-anchor="end" fill="#222" stroke="#222" stroke-width="0.18" transform="rotate(-90 380.20 242.40)" >Q27E</text>
<text x="392.20" y="242.40" font-size="7.7" text-anchor="end" fill="#222" stroke="#222" stroke-width="0.18" transform="rotate(-90 392.20 242.40)" >S56W</text>
<text x="405.40" y="242.40" font-size="7.7" text-anchor="end" fill="#222" stroke="#222" stroke-width="0.18" transform="rotate(-90 405.40 242.40)" >N57H</text>
<text x="417.50" y="242.40" font-size="7.7" text-anchor="end" fill="#222" stroke="#222" stroke-width="0.18" transform="rotate(-90 417.50 242.40)" >A55K</text>
<text x="429.40" y="242.40" font-size="7.7" text-anchor="end" fill="#222" stroke="#222" stroke-width="0.18" transform="rotate(-90 429.40 242.40)" >Y100W</text>
<text x="441.50" y="242.40" font-size="7.7" text-anchor="end" fill="#222" stroke="#222" stroke-width="0.18" transform="rotate(-90 441.50 242.40)" >Y100F</text>
<text x="454.00" y="242.40" font-size="7.7" text-anchor="end" fill="#222" stroke="#222" stroke-width="0.18" transform="rotate(-90 454.00 242.40)" >N57W</text>
<text x="466.30" y="242.40" font-size="7.7" text-anchor="end" fill="#222" stroke="#222" stroke-width="0.18" transform="rotate(-90 466.30 242.40)" >S56R</text>
<text x="478.40" y="242.40" font-size="7.7" text-anchor="end" fill="#222" stroke="#222" stroke-width="0.18" transform="rotate(-90 478.40 242.40)" >N52R</text>
<text x="283.60" y="289.40" font-size="7.7" text-anchor="start" fill="#222" stroke="#222" stroke-width="0.18" textLength="21.30" lengthAdjust="spacingAndGlyphs" >Protac</text>
<line x1="313.40" y1="287.50" x2="317.60" y2="287.50" stroke="#555" stroke-width="0.9" />
<line x1="325.70" y1="287.50" x2="329.30" y2="287.50" stroke="#2a2a2a" stroke-width="1.0" />
<line x1="327.50" y1="285.70" x2="327.50" y2="289.30" stroke="#2a2a2a" stroke-width="1.0" />
<line x1="339.70" y1="287.50" x2="343.30" y2="287.50" stroke="#2a2a2a" stroke-width="1.0" />
<line x1="341.50" y1="285.70" x2="341.50" y2="289.30" stroke="#2a2a2a" stroke-width="1.0" />
<line x1="351.70" y1="287.50" x2="355.30" y2="287.50" stroke="#2a2a2a" stroke-width="1.0" />
<line x1="353.50" y1="285.70" x2="353.50" y2="289.30" stroke="#2a2a2a" stroke-width="1.0" />
<line x1="363.70" y1="287.50" x2="367.30" y2="287.50" stroke="#2a2a2a" stroke-width="1.0" />
<line x1="365.50" y1="285.70" x2="365.50" y2="289.30" stroke="#2a2a2a" stroke-width="1.0" />
<line x1="376.70" y1="287.50" x2="380.30" y2="287.50" stroke="#2a2a2a" stroke-width="1.0" />
<line x1="378.50" y1="285.70" x2="378.50" y2="289.30" stroke="#2a2a2a" stroke-width="1.0" />
<line x1="388.70" y1="287.50" x2="392.30" y2="287.50" stroke="#2a2a2a" stroke-width="1.0" />
<line x1="390.50" y1="285.70" x2="390.50" y2="289.30" stroke="#2a2a2a" stroke-width="1.0" />
<line x1="400.70" y1="287.50" x2="404.30" y2="287.50" stroke="#2a2a2a" stroke-width="1.0" />
<line x1="402.50" y1="285.70" x2="402.50" y2="289.30" stroke="#2a2a2a" stroke-width="1.0" />
<line x1="412.70" y1="287.50" x2="416.30" y2="287.50" stroke="#2a2a2a" stroke-width="1.0" />
<line x1="414.50" y1="285.70" x2="414.50" y2="289.30" stroke="#2a2a2a" stroke-width="1.0" />
<line x1="424.70" y1="287.50" x2="428.30" y2="287.50" stroke="#2a2a2a" stroke-width="1.0" />
<line x1="426.50" y1="285.70" x2="426.50" y2="289.30" stroke="#2a2a2a" stroke-width="1.0" />
<line x1="437.70" y1="287.50" x2="441.30" y2="287.50" stroke="#2a2a2a" stroke-width="1.0" />
<line x1="439.50" y1="285.70" x2="439.50" y2="289.30" stroke="#2a2a2a" stroke-width="1.0" />
<line x1="449.70" y1="287.50" x2="453.30" y2="287.50" stroke="#2a2a2a" stroke-width="1.0" />
<line x1="451.50" y1="285.70" x2="451.50" y2="289.30" stroke="#2a2a2a" stroke-width="1.0" />
<line x1="461.70" y1="287.50" x2="465.30" y2="287.50" stroke="#2a2a2a" stroke-width="1.0" />
<line x1="463.50" y1="285.70" x2="463.50" y2="289.30" stroke="#2a2a2a" stroke-width="1.0" />
<line x1="473.70" y1="287.50" x2="477.30" y2="287.50" stroke="#2a2a2a" stroke-width="1.0" />
<line x1="475.50" y1="285.70" x2="475.50" y2="289.30" stroke="#2a2a2a" stroke-width="1.0" />
<line x1="352.30" y1="294.80" x2="480.00" y2="294.80" stroke="#555" stroke-width="1.5" />
<text x="372.30" y="304.2" font-size="7.9" fill="#222" stroke="#222" stroke-width="0.18" textLength="88.30" lengthAdjust="spacingAndGlyphs">V<tspan font-size="5.6" dy="1.8">L</tspan><tspan dy="-1.8"> Amino Acid Substitution</tspan></text>
<path d="M352.90,321.70 L485.00,308.20 L485.00,321.70Z" fill="#475368"/>
<text x="426.80" y="319.90" font-size="7.2" text-anchor="start" fill="#fff" stroke="#fff" stroke-width="0.08" textLength="57.00" lengthAdjust="spacingAndGlyphs" >Inhibition Potency</text>
<text x="37.30" y="346.10" font-size="11" text-anchor="start" fill="#111" stroke="#111" stroke-width="0.35" font-weight="bold" >D</text>
<text x="111.30" y="346.2" font-size="8.9" fill="#222" stroke="#222" stroke-width="0.18" textLength="112.80" lengthAdjust="spacingAndGlyphs">V<tspan font-size="6.8" dy="2.2">H</tspan><tspan dy="-2.2"> Amino Acid Substitutions</tspan></text>
<text x="167.80" y="357.40" font-size="8.9" text-anchor="middle" fill="#222" stroke="#222" stroke-width="0.18" textLength="69.40" lengthAdjust="spacingAndGlyphs" >in Different CDRs</text>
<line x1="82.50" y1="380.20" x2="252.50" y2="380.20" stroke="#333" stroke-width="1" stroke-dasharray="1.8 2.3"/>
<line x1="119.50" y1="367.00" x2="119.50" y2="490.00" stroke="#333" stroke-width="1" stroke-dasharray="1.8 2.3"/>
<line x1="80.50" y1="365.20" x2="80.50" y2="490.55" stroke="#1a1a1a" stroke-width="1.1" />
<line x1="77.50" y1="490.00" x2="80.50" y2="490.00" stroke="#1a1a1a" stroke-width="1" />
<line x1="78.80" y1="467.18" x2="80.50" y2="467.18" stroke="#1a1a1a" stroke-width="0.8" />
<line x1="78.80" y1="453.83" x2="80.50" y2="453.83" stroke="#1a1a1a" stroke-width="0.8" />
<line x1="78.80" y1="444.36" x2="80.50" y2="444.36" stroke="#1a1a1a" stroke-width="0.8" />
<line x1="78.80" y1="437.02" x2="80.50" y2="437.02" stroke="#1a1a1a" stroke-width="0.8" />
<line x1="78.80" y1="431.02" x2="80.50" y2="431.02" stroke="#1a1a1a" stroke-width="0.8" />
<line x1="78.80" y1="425.94" x2="80.50" y2="425.94" stroke="#1a1a1a" stroke-width="0.8" />
<line x1="78.80" y1="421.55" x2="80.50" y2="421.55" stroke="#1a1a1a" stroke-width="0.8" />
<line x1="78.80" y1="417.67" x2="80.50" y2="417.67" stroke="#1a1a1a" stroke-width="0.8" />
<line x1="77.50" y1="414.20" x2="80.50" y2="414.20" stroke="#1a1a1a" stroke-width="1" />
<line x1="78.80" y1="391.38" x2="80.50" y2="391.38" stroke="#1a1a1a" stroke-width="0.8" />
<line x1="78.80" y1="378.03" x2="80.50" y2="378.03" stroke="#1a1a1a" stroke-width="0.8" />
<line x1="77.90" y1="368.56" x2="80.50" y2="368.56" stroke="#1a1a1a" stroke-width="1" />
<text x="74.00" y="417.00" font-size="7.7" text-anchor="end" fill="#222" stroke="#222" stroke-width="0.18" >10</text>
<text x="74.40" y="492.80" font-size="7.7" text-anchor="end" fill="#222" stroke="#222" stroke-width="0.18" >1</text>
<text x="57.90" y="428.30" font-size="8.8" text-anchor="middle" fill="#222" stroke="#222" stroke-width="0.25" transform="rotate(-90 57.90 428.30)" textLength="40.5" lengthAdjust="spacingAndGlyphs">K<tspan font-size="6" dy="1.6">D</tspan><tspan dy="-1.6"> (× 10</tspan><tspan font-size="6" dy="-3.2">–9</tspan><tspan dy="3.2"> M)</tspan></text>
<line x1="80.50" y1="490.00" x2="254.70" y2="490.00" stroke="#1a1a1a" stroke-width="1.1" />
<line x1="80.50" y1="490.00" x2="80.50" y2="492.60" stroke="#1a1a1a" stroke-width="1" />
<line x1="88.64" y1="490.00" x2="88.64" y2="491.50" stroke="#1a1a1a" stroke-width="0.8" />
<line x1="96.78" y1="490.00" x2="96.78" y2="491.50" stroke="#1a1a1a" stroke-width="0.8" />
<line x1="104.92" y1="490.00" x2="104.92" y2="491.50" stroke="#1a1a1a" stroke-width="0.8" />
<line x1="113.06" y1="490.00" x2="113.06" y2="492.60" stroke="#1a1a1a" stroke-width="1" />
<line x1="121.20" y1="490.00" x2="121.20" y2="491.50" stroke="#1a1a1a" stroke-width="0.8" />
<line x1="129.34" y1="490.00" x2="129.34" y2="491.50" stroke="#1a1a1a" stroke-width="0.8" />
<line x1="137.48" y1="490.00" x2="137.48" y2="491.50" stroke="#1a1a1a" stroke-width="0.8" />
<line x1="145.62" y1="490.00" x2="145.62" y2="492.60" stroke="#1a1a1a" stroke-width="1" />
<line x1="153.76" y1="490.00" x2="153.76" y2="491.50" stroke="#1a1a1a" stroke-width="0.8" />
<line x1="161.90" y1="490.00" x2="161.90" y2="491.50" stroke="#1a1a1a" stroke-width="0.8" />
<line x1="170.04" y1="490.00" x2="170.04" y2="491.50" stroke="#1a1a1a" stroke-width="0.8" />
<line x1="178.18" y1="490.00" x2="178.18" y2="492.60" stroke="#1a1a1a" stroke-width="1" />
<line x1="186.32" y1="490.00" x2="186.32" y2="491.50" stroke="#1a1a1a" stroke-width="0.8" />
<line x1="194.46" y1="490.00" x2="194.46" y2="491.50" stroke="#1a1a1a" stroke-width="0.8" />
<line x1="202.60" y1="490.00" x2="202.60" y2="491.50" stroke="#1a1a1a" stroke-width="0.8" />
<line x1="210.74" y1="490.00" x2="210.74" y2="492.60" stroke="#1a1a1a" stroke-width="1" />
<line x1="218.88" y1="490.00" x2="218.88" y2="491.50" stroke="#1a1a1a" stroke-width="0.8" />
<line x1="227.02" y1="490.00" x2="227.02" y2="491.50" stroke="#1a1a1a" stroke-width="0.8" />
<line x1="235.16" y1="490.00" x2="235.16" y2="491.50" stroke="#1a1a1a" stroke-width="0.8" />
<line x1="243.30" y1="490.00" x2="243.30" y2="492.60" stroke="#1a1a1a" stroke-width="1" />
<line x1="251.44" y1="490.00" x2="251.44" y2="491.50" stroke="#1a1a1a" stroke-width="0.8" />
<text x="80.50" y="505.80" font-size="7.7" text-anchor="middle" fill="#222" stroke="#222" stroke-width="0.18" >0</text>
<text x="113.06" y="505.80" font-size="7.7" text-anchor="middle" fill="#222" stroke="#222" stroke-width="0.18" >20</text>
<text x="145.62" y="505.80" font-size="7.7" text-anchor="middle" fill="#222" stroke="#222" stroke-width="0.18" >40</text>
<text x="178.18" y="505.80" font-size="7.7" text-anchor="middle" fill="#222" stroke="#222" stroke-width="0.18" >60</text>
<text x="210.74" y="505.80" font-size="7.7" text-anchor="middle" fill="#222" stroke="#222" stroke-width="0.18" >80</text>
<text x="243.30" y="505.80" font-size="7.7" text-anchor="middle" fill="#222" stroke="#222" stroke-width="0.18" >100</text>
<text x="130.60" y="519.80" font-size="8.8" text-anchor="start" fill="#222" font-weight="bold" textLength="70.20" lengthAdjust="spacingAndGlyphs" >% APC activity in plasma</text>
<circle cx="221.00" cy="455.70" r="2.9" fill="#f0962a"/>
<text x="227.00" y="458.15" font-size="6.9" text-anchor="start" fill="#222" stroke="#222" stroke-width="0.18" textLength="18.60" lengthAdjust="spacingAndGlyphs" >CDR1</text>
<circle cx="221.00" cy="466.30" r="2.9" fill="#4b1d5c"/>
<text x="227.00" y="468.75" font-size="6.9" text-anchor="start" fill="#222" stroke="#222" stroke-width="0.18" textLength="18.60" lengthAdjust="spacingAndGlyphs" >CDR2</text>
<circle cx="221.00" cy="477.00" r="2.9" fill="#62ad3f"/>
<text x="227.00" y="479.45" font-size="6.9" text-anchor="start" fill="#222" stroke="#222" stroke-width="0.18" textLength="18.60" lengthAdjust="spacingAndGlyphs" >CDR3</text>
<line x1="101.00" y1="393.50" x2="105.60" y2="383.90" stroke="#222" stroke-width="0.9" />
<line x1="108.50" y1="389.50" x2="108.50" y2="424.00" stroke="#333" stroke-width="0.8" />
<line x1="111.30" y1="388.00" x2="111.30" y2="440.00" stroke="#333" stroke-width="0.8" />
<line x1="97.90" y1="413.50" x2="104.30" y2="407.10" stroke="#222" stroke-width="0.9" />
<line x1="131.20" y1="409.20" x2="140.70" y2="402.00" stroke="#222" stroke-width="0.9" />
<line x1="125.30" y1="414.70" x2="136.20" y2="438.30" stroke="#222" stroke-width="0.9" />
<circle cx="106.20" cy="382.30" r="1.9" fill="#4b1d5c"/>
<circle cx="110.50" cy="386.20" r="1.9" fill="#62ad3f"/>
<circle cx="108.20" cy="387.80" r="1.9" fill="#4b1d5c"/>
<circle cx="106.00" cy="405.10" r="1.9" fill="#f0962a"/>
<circle cx="129.10" cy="387.90" r="1.9" fill="#4b1d5c"/>
<circle cx="126.70" cy="410.70" r="1.9" fill="#f0962a"/>
<circle cx="124.00" cy="410.70" r="1.9" fill="#4b1d5c"/>
<circle cx="150.10" cy="413.90" r="1.9" fill="#f0962a"/>
<circle cx="140.80" cy="428.70" r="1.9" fill="#f0962a"/>
<circle cx="114.50" cy="483.70" r="1.9" fill="#f0962a"/>
<circle cx="119.60" cy="379.90" r="1.9" fill="#e8f0fa" stroke="#22436e" stroke-width="1.1"/>
<text x="121.85" y="375.86" font-size="7.7" text-anchor="start" fill="#222" stroke="#222" stroke-width="0.18" textLength="72.00" lengthAdjust="spacingAndGlyphs" >TPP-26870 (Parental)</text>
<text x="102.35" y="400.76" font-size="7.7" text-anchor="end" fill="#222" stroke="#222" stroke-width="0.18" textLength="19.60" lengthAdjust="spacingAndGlyphs" >S54R</text>
<text x="103.85" y="420.76" font-size="7.7" text-anchor="end" fill="#222" stroke="#222" stroke-width="0.18" textLength="19.30" lengthAdjust="spacingAndGlyphs" >M34F</text>
<text x="109.05" y="432.06" font-size="7.7" text-anchor="end" fill="#222" stroke="#222" stroke-width="0.18" textLength="17.70" lengthAdjust="spacingAndGlyphs" >S53T</text>
<text x="113.25" y="447.76" font-size="7.7" text-anchor="end" fill="#222" stroke="#222" stroke-width="0.18" textLength="23.60" lengthAdjust="spacingAndGlyphs" >F103M</text>
<text x="132.05" y="390.76" font-size="7.7" text-anchor="start" fill="#222" stroke="#222" stroke-width="0.18" textLength="17.90" lengthAdjust="spacingAndGlyphs" >T57P</text>
<text x="140.25" y="405.36" font-size="7.7" text-anchor="start" fill="#222" stroke="#222" stroke-width="0.18" textLength="16.90" lengthAdjust="spacingAndGlyphs" >Y32F</text>
<text x="128.85" y="446.36" font-size="7.7" text-anchor="start" fill="#222" stroke="#222" stroke-width="0.18" textLength="19.10" lengthAdjust="spacingAndGlyphs" >S56R</text>
<text x="152.35" y="417.06" font-size="7.7" text-anchor="start" fill="#222" stroke="#222" stroke-width="0.18" textLength="16.50" lengthAdjust="spacingAndGlyphs" >N31I</text>
<text x="143.05" y="431.96" font-size="7.7" text-anchor="start" fill="#222" stroke="#222" stroke-width="0.18" textLength="19.50" lengthAdjust="spacingAndGlyphs" >N31P</text>
<text x="115.45" y="480.26" font-size="7.7" text-anchor="end" fill="#222" stroke="#222" stroke-width="0.18" textLength="18.60" lengthAdjust="spacingAndGlyphs" >N31F</text>
<text x="269.70" y="346.10" font-size="11" text-anchor="start" fill="#111" stroke="#111" stroke-width="0.35" font-weight="bold" >E</text>
<text x="340.10" y="346.2" font-size="8.9" fill="#222" stroke="#222" stroke-width="0.18" textLength="110.80" lengthAdjust="spacingAndGlyphs">V<tspan font-size="6.8" dy="2.2">L</tspan><tspan dy="-2.2"> Amino Acid Substitutions</tspan></text>
<text x="395.20" y="357.40" font-size="8.9" text-anchor="middle" fill="#222" stroke="#222" stroke-width="0.18" textLength="70.60" lengthAdjust="spacingAndGlyphs" >in Different CDRs</text>
<line x1="309.60" y1="380.10" x2="479.00" y2="380.10" stroke="#333" stroke-width="1" stroke-dasharray="1.8 2.3"/>
<line x1="346.70" y1="367.00" x2="346.70" y2="489.70" stroke="#333" stroke-width="1" stroke-dasharray="1.8 2.3"/>
<line x1="307.60" y1="365.20" x2="307.60" y2="490.25" stroke="#1a1a1a" stroke-width="1.1" />
<line x1="304.60" y1="489.70" x2="307.60" y2="489.70" stroke="#1a1a1a" stroke-width="1" />
<line x1="305.90" y1="466.79" x2="307.60" y2="466.79" stroke="#1a1a1a" stroke-width="0.8" />
<line x1="305.90" y1="453.39" x2="307.60" y2="453.39" stroke="#1a1a1a" stroke-width="0.8" />
<line x1="305.90" y1="443.88" x2="307.60" y2="443.88" stroke="#1a1a1a" stroke-width="0.8" />
<line x1="305.90" y1="436.51" x2="307.60" y2="436.51" stroke="#1a1a1a" stroke-width="0.8" />
<line x1="305.90" y1="430.48" x2="307.60" y2="430.48" stroke="#1a1a1a" stroke-width="0.8" />
<line x1="305.90" y1="425.39" x2="307.60" y2="425.39" stroke="#1a1a1a" stroke-width="0.8" />
<line x1="305.90" y1="420.97" x2="307.60" y2="420.97" stroke="#1a1a1a" stroke-width="0.8" />
<line x1="305.90" y1="417.08" x2="307.60" y2="417.08" stroke="#1a1a1a" stroke-width="0.8" />
<line x1="304.60" y1="413.60" x2="307.60" y2="413.60" stroke="#1a1a1a" stroke-width="1" />
<line x1="305.90" y1="390.69" x2="307.60" y2="390.69" stroke="#1a1a1a" stroke-width="0.8" />
<line x1="305.90" y1="377.29" x2="307.60" y2="377.29" stroke="#1a1a1a" stroke-width="0.8" />
<line x1="305.00" y1="367.78" x2="307.60" y2="367.78" stroke="#1a1a1a" stroke-width="1" />
<text x="300.90" y="416.40" font-size="7.7" text-anchor="end" fill="#222" stroke="#222" stroke-width="0.18" >10</text>
<text x="301.20" y="492.50" font-size="7.7" text-anchor="end" fill="#222" stroke="#222" stroke-width="0.18" >1</text>
<text x="286.60" y="427.80" font-size="8.8" text-anchor="middle" fill="#222" stroke="#222" stroke-width="0.25" transform="rotate(-90 286.60 427.80)" textLength="40.5" lengthAdjust="spacingAndGlyphs">K<tspan font-size="6" dy="1.6">D</tspan><tspan dy="-1.6"> (× 10</tspan><tspan font-size="6" dy="-3.2">–9</tspan><tspan dy="3.2"> M)</tspan></text>
<line x1="307.60" y1="489.70" x2="483.29" y2="489.70" stroke="#1a1a1a" stroke-width="1.1" />
<line x1="307.70" y1="489.70" x2="307.70" y2="492.30" stroke="#1a1a1a" stroke-width="1" />
<line x1="315.90" y1="489.70" x2="315.90" y2="491.20" stroke="#1a1a1a" stroke-width="0.8" />
<line x1="324.11" y1="489.70" x2="324.11" y2="491.20" stroke="#1a1a1a" stroke-width="0.8" />
<line x1="332.31" y1="489.70" x2="332.31" y2="491.20" stroke="#1a1a1a" stroke-width="0.8" />
<line x1="340.52" y1="489.70" x2="340.52" y2="492.30" stroke="#1a1a1a" stroke-width="1" />
<line x1="348.72" y1="489.70" x2="348.72" y2="491.20" stroke="#1a1a1a" stroke-width="0.8" />
<line x1="356.93" y1="489.70" x2="356.93" y2="491.20" stroke="#1a1a1a" stroke-width="0.8" />
<line x1="365.13" y1="489.70" x2="365.13" y2="491.20" stroke="#1a1a1a" stroke-width="0.8" />
<line x1="373.34" y1="489.70" x2="373.34" y2="492.30" stroke="#1a1a1a" stroke-width="1" />
<line x1="381.54" y1="489.70" x2="381.54" y2="491.20" stroke="#1a1a1a" stroke-width="0.8" />
<line x1="389.75" y1="489.70" x2="389.75" y2="491.20" stroke="#1a1a1a" stroke-width="0.8" />
<line x1="397.95" y1="489.70" x2="397.95" y2="491.20" stroke="#1a1a1a" stroke-width="0.8" />
<line x1="406.16" y1="489.70" x2="406.16" y2="492.30" stroke="#1a1a1a" stroke-width="1" />
<line x1="414.37" y1="489.70" x2="414.37" y2="491.20" stroke="#1a1a1a" stroke-width="0.8" />
<line x1="422.57" y1="489.70" x2="422.57" y2="491.20" stroke="#1a1a1a" stroke-width="0.8" />
<line x1="430.77" y1="489.70" x2="430.77" y2="491.20" stroke="#1a1a1a" stroke-width="0.8" />
<line x1="438.98" y1="489.70" x2="438.98" y2="492.30" stroke="#1a1a1a" stroke-width="1" />
<line x1="447.19" y1="489.70" x2="447.19" y2="491.20" stroke="#1a1a1a" stroke-width="0.8" />
<line x1="455.39" y1="489.70" x2="455.39" y2="491.20" stroke="#1a1a1a" stroke-width="0.8" />
<line x1="463.60" y1="489.70" x2="463.60" y2="491.20" stroke="#1a1a1a" stroke-width="0.8" />
<line x1="471.80" y1="489.70" x2="471.80" y2="492.30" stroke="#1a1a1a" stroke-width="1" />
<line x1="480.00" y1="489.70" x2="480.00" y2="491.20" stroke="#1a1a1a" stroke-width="0.8" />
<text x="307.70" y="502.40" font-size="7.7" text-anchor="middle" fill="#222" stroke="#222" stroke-width="0.18" >0</text>
<text x="340.52" y="502.40" font-size="7.7" text-anchor="middle" fill="#222" stroke="#222" stroke-width="0.18" >20</text>
<text x="373.34" y="502.40" font-size="7.7" text-anchor="middle" fill="#222" stroke="#222" stroke-width="0.18" >40</text>
<text x="406.16" y="502.40" font-size="7.7" text-anchor="middle" fill="#222" stroke="#222" stroke-width="0.18" >60</text>
<text x="438.98" y="502.40" font-size="7.7" text-anchor="middle" fill="#222" stroke="#222" stroke-width="0.18" >80</text>
<text x="471.80" y="502.40" font-size="7.7" text-anchor="middle" fill="#222" stroke="#222" stroke-width="0.18" >100</text>
<text x="360.00" y="515.00" font-size="8.8" text-anchor="start" fill="#222" font-weight="bold" textLength="69.80" lengthAdjust="spacingAndGlyphs" >% APC activity in plasma</text>
<circle cx="447.70" cy="455.50" r="2.9" fill="#f0962a"/>
<text x="453.70" y="457.95" font-size="6.9" text-anchor="start" fill="#222" stroke="#222" stroke-width="0.18" textLength="18.60" lengthAdjust="spacingAndGlyphs" >CDR1</text>
<circle cx="447.70" cy="466.10" r="2.9" fill="#4b1d5c"/>
<text x="453.70" y="468.55" font-size="6.9" text-anchor="start" fill="#222" stroke="#222" stroke-width="0.18" textLength="18.60" lengthAdjust="spacingAndGlyphs" >CDR2</text>
<circle cx="447.70" cy="477.00" r="2.9" fill="#62ad3f"/>
<text x="453.70" y="479.45" font-size="6.9" text-anchor="start" fill="#222" stroke="#222" stroke-width="0.18" textLength="18.60" lengthAdjust="spacingAndGlyphs" >CDR3</text>
<line x1="349.40" y1="378.20" x2="366.20" y2="373.10" stroke="#222" stroke-width="0.9" />
<line x1="341.70" y1="387.50" x2="341.70" y2="468.80" stroke="#888" stroke-width="1.1" />
<line x1="344.50" y1="392.50" x2="344.50" y2="477.00" stroke="#222" stroke-width="0.9" />
<line x1="324.40" y1="417.50" x2="324.40" y2="428.20" stroke="#222" stroke-width="0.9" />
<line x1="337.80" y1="424.00" x2="337.80" y2="437.70" stroke="#222" stroke-width="0.9" />
<line x1="354.20" y1="417.50" x2="357.00" y2="437.00" stroke="#222" stroke-width="0.9" />
<line x1="357.50" y1="387.50" x2="389.60" y2="410.80" stroke="#222" stroke-width="0.9" />
<line x1="368.80" y1="385.80" x2="414.30" y2="390.00" stroke="#222" stroke-width="0.9" />
<line x1="356.00" y1="400.80" x2="379.20" y2="426.90" stroke="#222" stroke-width="0.9" />
<circle cx="328.60" cy="383.80" r="1.9" fill="#4b1d5c"/>
<circle cx="342.00" cy="383.80" r="1.9" fill="#4b1d5c"/>
<circle cx="345.00" cy="389.20" r="1.9" fill="#4b1d5c"/>
<circle cx="355.50" cy="385.20" r="1.9" fill="#62ad3f"/>
<circle cx="365.80" cy="385.20" r="1.9" fill="#f0962a"/>
<circle cx="354.10" cy="398.40" r="1.9" fill="#f0962a"/>
<circle cx="338.60" cy="405.10" r="1.9" fill="#62ad3f"/>
<circle cx="324.50" cy="413.70" r="1.9" fill="#4b1d5c"/>
<circle cx="353.50" cy="413.70" r="1.9" fill="#4b1d5c"/>
<circle cx="338.00" cy="419.90" r="1.9" fill="#62ad3f"/>
<circle cx="329.10" cy="452.30" r="1.9" fill="#4b1d5c"/>
<circle cx="347.00" cy="379.80" r="1.9" fill="#e8f0fa" stroke="#22436e" stroke-width="1.1"/>
<text x="366.75" y="373.86" font-size="7.7" text-anchor="start" fill="#222" stroke="#222" stroke-width="0.18" textLength="70.30" lengthAdjust="spacingAndGlyphs" >TPP-26870 (Parental)</text>
<text x="330.65" y="392.96" font-size="7.7" text-anchor="end" fill="#222" stroke="#222" stroke-width="0.18" textLength="19.60" lengthAdjust="spacingAndGlyphs" >S56R</text>
<text x="336.65" y="406.56" font-size="7.7" text-anchor="end" fill="#222" stroke="#222" stroke-width="0.18" textLength="25.70" lengthAdjust="spacingAndGlyphs" >Y100W</text>
<text x="330.85" y="436.86" font-size="7.7" text-anchor="end" fill="#222" stroke="#222" stroke-width="0.18" textLength="19.00" lengthAdjust="spacingAndGlyphs" >N57R</text>
<text x="339.95" y="446.56" font-size="7.7" text-anchor="end" fill="#222" stroke="#222" stroke-width="0.18" textLength="22.40" lengthAdjust="spacingAndGlyphs" >Y100F</text>
<text x="334.35" y="464.56" font-size="7.7" text-anchor="end" fill="#222" stroke="#222" stroke-width="0.18" textLength="22.50" lengthAdjust="spacingAndGlyphs" >N57W</text>
<text x="342.85" y="475.76" font-size="7.7" text-anchor="end" fill="#222" stroke="#222" stroke-width="0.18" textLength="19.00" lengthAdjust="spacingAndGlyphs" >A55K</text>
<text x="345.85" y="486.36" font-size="7.7" text-anchor="end" fill="#222" stroke="#222" stroke-width="0.18" textLength="20.10" lengthAdjust="spacingAndGlyphs" >N57H</text>
<text x="353.55" y="446.96" font-size="7.7" text-anchor="start" fill="#222" stroke="#222" stroke-width="0.18" textLength="22.20" lengthAdjust="spacingAndGlyphs" >S56W</text>
<text x="386.85" y="417.66" font-size="7.7" text-anchor="start" fill="#222" stroke="#222" stroke-width="0.18" textLength="20.20" lengthAdjust="spacingAndGlyphs" >Q93T</text>
<text x="416.15" y="397.86" font-size="7.7" text-anchor="start" fill="#222" stroke="#222" stroke-width="0.18" textLength="19.80" lengthAdjust="spacingAndGlyphs" >S28R</text>
<text x="377.65" y="436.16" font-size="7.7" text-anchor="start" fill="#222" stroke="#222" stroke-width="0.18" textLength="19.00" lengthAdjust="spacingAndGlyphs" >Q27E</text>
<rect x="0.5" y="0.5" width="519" height="527" fill="none" stroke="#6a6a6a" stroke-width="1"/>
</svg>
</body></html>
